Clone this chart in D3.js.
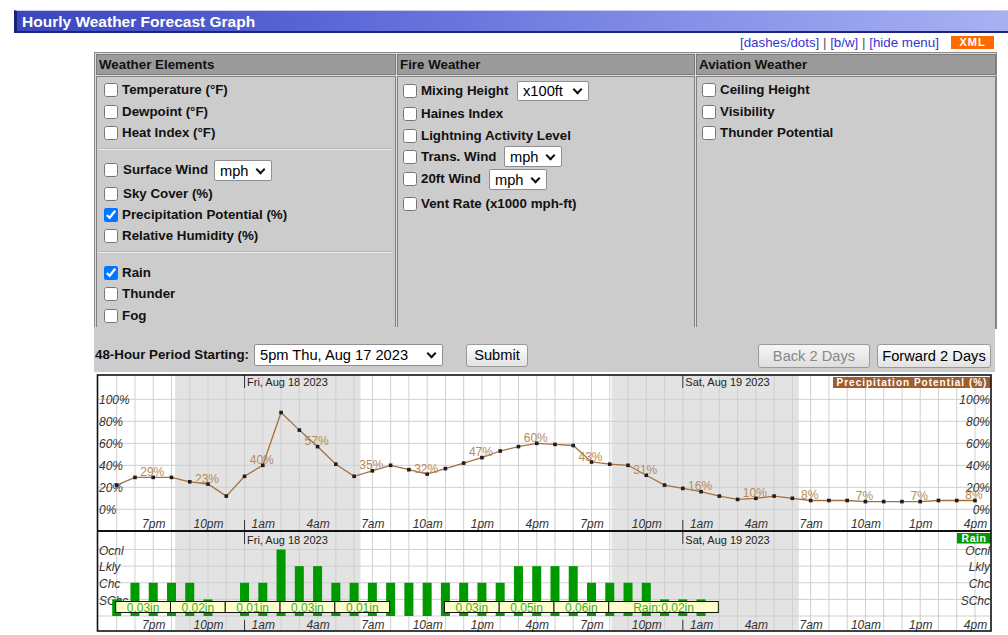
<!DOCTYPE html>
<html>
<head>
<meta charset="utf-8">
<script src="https://cdn.jsdelivr.net/npm/d3@7"></script>
<style>
  body { margin: 0; width: 1008px; height: 635px; overflow: hidden; position: relative; background: #fff;
         font-family: Arial, "Liberation Sans", sans-serif; font-size: 10pt; }
  .abs { position: absolute; }
  #titlebar { left: 14px; top: 10px; width: 994px; height: 20px; box-sizing: content-box;
    background: linear-gradient(to right, #3a46bb 0%, #5f6bd8 35%, #8e98ea 75%, #a9b1f2 100%);
    border-left: 3px solid #1b2078; border-bottom: 2px solid #1d2480; border-top: 1px solid #c9ccf0; }
  #titlebar span { position: absolute; left: 5px; top: 1px; color: #fff; font-weight: bold; font-size: 15.5px; line-height: 19px; }
  #links { left: 740px; top: 35px; line-height: 16px; color: #555; white-space: nowrap; }
  #links a { color: #3535d0; text-decoration: none; }
  #xml { left: 951px; top: 36px; width: 43px; height: 13px; background: #ff6a00; color: #fff; font-weight: bold;
         font-size: 11px; line-height: 13px; text-align: center; letter-spacing: 1px; }
  #menu { left: 94px; top: 52px; width: 901px; height: 275px; background: #dcdcdc; border: 1px solid #8a8a8a; }
  .hd { height: 19px; background: #9b9b9b; border: 1px solid #7a7a7a; font-weight: bold; font-size: 10pt;
        line-height: 19px; padding-left: 2px; box-sizing: content-box; color: #111; }
  .bd { background: #cccccc; border: 1px solid #808080; }
  .row { position: absolute; height: 16px; line-height: 16px; display: flex; align-items: center;
         font-weight: bold; white-space: nowrap; color: #111; }
  .row input { margin: 0 4px 0 0; width: 14px; height: 14px; }
  .hr { position: absolute; height: 1px; background: #eeeeee; border-top: 1px solid #b8b8b8; }
  .sel { position: absolute; background: #fff; border: 1px solid #8f8f8f; border-radius: 2px; box-sizing: border-box;
         font-size: 11pt; font-weight: normal; color: #000; padding-left: 5px; display: flex; align-items: center; }
  .chev { position: absolute; right: 7px; top: 50%; width: 5px; height: 5px; margin-top: -5px;
          border-right: 2px solid #111; border-bottom: 2px solid #111; transform: rotate(45deg); }
  #band { left: 94px; top: 327px; width: 901px; height: 45px; background: #cccccc; }
  .btn { position: absolute; box-sizing: border-box; border: 1px solid #9a9a9a; border-radius: 3px;
         background: linear-gradient(#fdfdfd, #e2e2e2); font-size: 11pt; text-align: center; color: #000; }
  #graph { position: absolute; left: 0; top: 0; }
  .ax text { font-family: "Liberation Sans Narrow", "Arial Narrow", "Liberation Sans", Arial, sans-serif;
             font-style: italic; font-size: 12px; fill: #333; }
</style>
</head>
<body>
<div id="titlebar" class="abs"><span>Hourly Weather Forecast Graph</span></div>
<div id="links" class="abs"><a>[dashes/dots]</a> | <a>[b/w]</a> | <a>[hide menu]</a></div>
<div id="xml" class="abs">XML</div>

<div id="menu" class="abs">
  <div class="hd abs" style="left:1px;top:1px;width:296px;">Weather Elements</div>
  <div class="hd abs" style="left:302px;top:1px;width:294px;">Fire Weather</div>
  <div class="hd abs" style="left:601px;top:1px;width:296px;">Aviation Weather</div>
  <div class="bd abs" style="left:1px;top:23px;width:298px;height:250px;"></div>
  <div class="bd abs" style="left:302px;top:23px;width:296px;height:250px;"></div>
  <div class="bd abs" style="left:601px;top:23px;width:298px;height:250px;"></div>
</div>

<!-- weather elements -->
<div class="row" style="left:104px;top:82px;"><input type="checkbox">Temperature (°F)</div>
<div class="row" style="left:104px;top:104px;"><input type="checkbox">Dewpoint (°F)</div>
<div class="row" style="left:104px;top:125px;"><input type="checkbox">Heat Index (°F)</div>
<div class="hr" style="left:98px;top:148px;width:294px;"></div>
<div class="row" style="left:104px;top:162px;"><input type="checkbox" style="margin-right:5px">Surface Wind</div>
<div class="sel" style="left:214px;top:160px;width:58px;height:21px;">mph<span class="chev"></span></div>
<div class="row" style="left:104px;top:186px;"><input type="checkbox" style="margin-right:5px">Sky Cover (%)</div>
<div class="row" style="left:104px;top:207px;"><input type="checkbox" checked>Precipitation Potential (%)</div>
<div class="row" style="left:104px;top:228px;"><input type="checkbox">Relative Humidity (%)</div>
<div class="hr" style="left:98px;top:251px;width:294px;"></div>
<div class="row" style="left:104px;top:265px;"><input type="checkbox" checked>Rain</div>
<div class="row" style="left:104px;top:286px;"><input type="checkbox">Thunder</div>
<div class="row" style="left:104px;top:308px;"><input type="checkbox">Fog</div>

<!-- fire weather -->
<div class="row" style="left:403px;top:83px;"><input type="checkbox">Mixing Height</div>
<div class="sel" style="left:517px;top:81px;width:72px;height:20px;">x100ft<span class="chev"></span></div>
<div class="row" style="left:403px;top:106px;"><input type="checkbox">Haines Index</div>
<div class="row" style="left:403px;top:128px;"><input type="checkbox">Lightning Activity Level</div>
<div class="row" style="left:403px;top:149px;"><input type="checkbox">Trans. Wind</div>
<div class="sel" style="left:504px;top:146px;width:58px;height:21px;">mph<span class="chev"></span></div>
<div class="row" style="left:403px;top:171px;"><input type="checkbox">20ft Wind</div>
<div class="sel" style="left:489px;top:169px;width:58px;height:21px;">mph<span class="chev"></span></div>
<div class="row" style="left:403px;top:196px;"><input type="checkbox">Vent Rate (x1000 mph-ft)</div>

<!-- aviation -->
<div class="row" style="left:702px;top:82px;"><input type="checkbox">Ceiling Height</div>
<div class="row" style="left:702px;top:104px;"><input type="checkbox">Visibility</div>
<div class="row" style="left:702px;top:125px;"><input type="checkbox">Thunder Potential</div>

<div id="band" class="abs"></div>
<div class="row" style="left:95px;top:347px;">48-Hour Period Starting:</div>
<div class="sel" style="left:254px;top:344px;width:189px;height:22px;">5pm Thu, Aug 17 2023<span class="chev"></span></div>
<div class="btn" style="left:466px;top:344px;width:62px;height:23px;line-height:21px;">Submit</div>
<div class="btn" style="left:758px;top:344px;width:112px;height:24px;line-height:22px;color:#888;background:linear-gradient(#f6f6f6,#dedede);">Back 2 Days</div>
<div class="btn" style="left:877px;top:344px;width:114px;height:24px;line-height:22px;">Forward 2 Days</div>

<svg id="graph"></svg>

<script>
// hourly precipitation potential (%), 5pm Thu Aug 17 .. 4pm Sat Aug 19
const popValues = [22, 29, 29, 29, 25, 23, 12, 30, 40, 88, 72, 57, 41, 30, 35, 40, 36, 32,
                   37, 42, 47, 53, 57, 60, 59, 58, 43, 41, 40, 31, 22, 19, 16, 12, 9, 10,
                   12, 10, 8, 8, 8, 7, 7, 7, 7, 8, 8, 8];
// rain coverage level per hour (0 none, 1 SChc, 2 Chc, 3 Lkly, 4 Ocnl)
const rainLevel = [1, 2, 2, 2, 2, 1, 0, 2, 2, 4, 3, 3, 2, 2, 2, 2, 2, 2,
                   2, 2, 2, 2, 3, 3, 3, 3, 2, 2, 2, 2, 1, 1, 1, 0, 0, 0,
                   0, 0, 0, 0, 0, 0, 0, 0, 0, 0, 0, 0];
const rainCats = ["SChc", "Chc", "Lkly", "Ocnl"];
const popTicks = [0, 20, 40, 60, 80, 100];
// rain amount boxes (hour index start/end)
const qpfStart = [0, 3, 6, 9, 12, 18, 21, 24, 27];
const qpfEnd = [3, 6, 9, 12, 15, 21, 24, 27, 33];
const qpfText = ["0.03in", "0.02in", "0.01in", "0.03in", "0.01in", "0.03in", "0.05in", "0.06in", "Rain:0.02in"];
// time axis
const tickIdx = [2, 5, 8, 11, 14, 17, 20, 23, 26, 29, 32, 35, 38, 41, 44, 47];
const tickLabels = ["7pm", "10pm", "1am", "4am", "7am", "10am", "1pm", "4pm",
                    "7pm", "10pm", "1am", "4am", "7am", "10am", "1pm", "4pm"];
const dayIdx = [7, 31];
const dayLabels = ["Fri, Aug 18 2023", "Sat, Aug 19 2023"];
// night shading (hour index)
const nightStart = [3.2, 27.1];
const nightEnd = [13.35, 37.35];

const svg = d3.select("#graph").attr("width", 1008).attr("height", 635);

const L = 97.5, R = 991, T1 = 375, B1 = 531, B2 = 631;
const x = d3.scaleLinear().domain([0, 47]).range([116.7, 975]);
const yPop = d3.scaleLinear().domain([0, 100]).range([509.3, 399.3]);
const yRain = d3.scaleLinear().domain([0, 4]).range([616, 549.5]);

function drawPanel(top, bottom, hLines, dateY, timeY) {
  const g = svg.append("g");
  g.append("rect").attr("x", L).attr("y", top).attr("width", R - L).attr("height", bottom - top).attr("fill", "#fff");
  g.selectAll("rect.night").data(nightStart).join("rect").attr("class", "night")
    .attr("x", d => x(d)).attr("y", top)
    .attr("width", (d, i) => x(nightEnd[i]) - x(d)).attr("height", bottom - top)
    .attr("fill", "#e3e3e3");
  g.selectAll("line.v").data(d3.range(48)).join("line").attr("class", "v")
    .attr("x1", d => x(d)).attr("x2", d => x(d)).attr("y1", top).attr("y2", bottom)
    .attr("stroke", "#cfcfcf").attr("stroke-width", 1);
  g.selectAll("line.h").data(hLines).join("line").attr("class", "h")
    .attr("x1", L).attr("x2", R).attr("y1", d => d).attr("y2", d => d)
    .attr("stroke", "#cfcfcf").attr("stroke-width", 1);
  // day boundaries
  dayIdx.forEach((d, i) => {
    g.append("line").attr("x1", x(d)).attr("x2", x(d)).attr("y1", top).attr("y2", top + 13)
      .attr("stroke", "#333");
    g.append("line").attr("x1", x(d)).attr("x2", x(d)).attr("y1", bottom - 11).attr("y2", bottom)
      .attr("stroke", "#333");
    g.append("text").attr("x", x(d) + 2.5).attr("y", dateY)
      .style("font-family", "Arial, 'Liberation Sans', sans-serif").style("font-size", "11px")
      .attr("fill", "#222").text(dayLabels[i]);
  });
  // time axis
  const ax = g.append("g").attr("class", "ax").attr("transform", `translate(0,${timeY})`)
    .call(d3.axisBottom(x).tickValues(tickIdx).tickFormat((d, i) => tickLabels[i]).tickSize(0).tickPadding(0));
  ax.select(".domain").remove();
  ax.selectAll("text").attr("dy", 0).attr("y", 0);
  return g;
}

// ---------- top panel: precipitation potential ----------
const gTop = drawPanel(T1, B1, popTicks.map(yPop), 386, 527.5);

const leftAx = gTop.append("g").attr("class", "ax").attr("transform", `translate(${L + 1.5},0)`)
  .call(d3.axisRight(yPop).tickValues(popTicks).tickFormat(d => d + "%").tickSize(0).tickPadding(0));
leftAx.select(".domain").remove();
const rightAx = gTop.append("g").attr("class", "ax").attr("transform", `translate(${R - 1},0)`)
  .call(d3.axisLeft(yPop).tickValues(popTicks).tickFormat(d => d + "%").tickSize(0).tickPadding(0));
rightAx.select(".domain").remove();

gTop.append("path").datum(popValues)
  .attr("d", d3.line().x((d, i) => x(i)).y(d => yPop(d)))
  .attr("fill", "none").attr("stroke", "#a5713e").attr("stroke-width", 1.3);
gTop.selectAll("rect.pt").data(popValues).join("rect").attr("class", "pt")
  .attr("x", (d, i) => x(i) - 1.8).attr("y", d => yPop(d) - 1.8)
  .attr("width", 3.6).attr("height", 3.6).attr("fill", "#1e1e1e");
gTop.selectAll("text.lbl").data(tickIdx).join("text").attr("class", "lbl")
  .attr("x", d => x(d) - 1).attr("y", d => yPop(popValues[d]) - 1.5)
  .attr("text-anchor", "middle")
  .style("font-family", "'Liberation Sans Narrow', 'Arial Narrow', 'Liberation Sans', Arial, sans-serif")
  .style("font-size", "12px").attr("fill", "#b48a5e")
  .text(d => popValues[d] + "%");

gTop.append("rect").attr("x", 833).attr("y", 377).attr("width", 158).attr("height", 11).attr("fill", "#9e5d2b");
gTop.append("text").attr("x", 912).attr("y", 386).attr("text-anchor", "middle")
  .style("font-family", "Arial, 'Liberation Sans', sans-serif").style("font-size", "10px")
  .style("font-weight", "bold").style("letter-spacing", "1px").attr("fill", "#fff")
  .text("Precipitation Potential (%)");

// ---------- bottom panel: rain ----------
const gBot = drawPanel(B1, B2, [0, 1, 2, 3, 4].map(yRain), 544, 628.5);

const rLeft = gBot.append("g").attr("class", "ax").attr("transform", `translate(${L + 1.5},1)`)
  .call(d3.axisRight(yRain).tickValues([1, 2, 3, 4]).tickFormat(d => rainCats[d - 1]).tickSize(0).tickPadding(0));
rLeft.select(".domain").remove();
const rRight = gBot.append("g").attr("class", "ax").attr("transform", `translate(${R - 1},1)`)
  .call(d3.axisLeft(yRain).tickValues([1, 2, 3, 4]).tickFormat(d => rainCats[d - 1]).tickSize(0).tickPadding(0));
rRight.select(".domain").remove();

// one bar per hour; hours without rain get zero height
gBot.selectAll("rect.bar").data(rainLevel).join("rect").attr("class", "bar")
  .attr("x", (d, i) => x(i) - 4.5).attr("y", d => yRain(d))
  .attr("width", 9).attr("height", d => yRain(0) - yRain(d))
  .attr("fill", "#009a00");

gBot.selectAll("rect.qpf").data(qpfStart).join("rect").attr("class", "qpf")
  .attr("x", d => x(d) - 1).attr("y", yRain(0) - 14.5)
  .attr("width", (d, i) => x(qpfEnd[i]) - x(d)).attr("height", 11)
  .attr("fill", "#ffffcc").attr("stroke", "#111").attr("stroke-width", 1);
gBot.selectAll("text.qpf").data(qpfStart).join("text").attr("class", "qpf")
  .attr("x", (d, i) => (x(d) + x(qpfEnd[i])) / 2 - 1).attr("y", yRain(0) - 4.5)
  .attr("text-anchor", "middle")
  .style("font-family", "Arial, 'Liberation Sans', sans-serif").style("font-size", "12px")
  .attr("fill", "#3aad2a").text((d, i) => qpfText[i]);

gBot.append("rect").attr("x", 957).attr("y", 533).attr("width", 34).attr("height", 10.5).attr("fill", "#009a00");
gBot.append("text").attr("x", 974).attr("y", 542).attr("text-anchor", "middle")
  .style("font-family", "Arial, 'Liberation Sans', sans-serif").style("font-size", "10.5px")
  .style("font-weight", "bold").style("letter-spacing", "0.5px").attr("fill", "#fff").text("Rain");

// frame
svg.append("rect").attr("x", L).attr("y", T1).attr("width", R - L).attr("height", B2 - T1)
  .attr("fill", "none").attr("stroke", "#111").attr("stroke-width", 1.6);
svg.append("line").attr("x1", L).attr("x2", R).attr("y1", B1).attr("y2", B1)
  .attr("stroke", "#111").attr("stroke-width", 2);
</script>
</body>
</html>
